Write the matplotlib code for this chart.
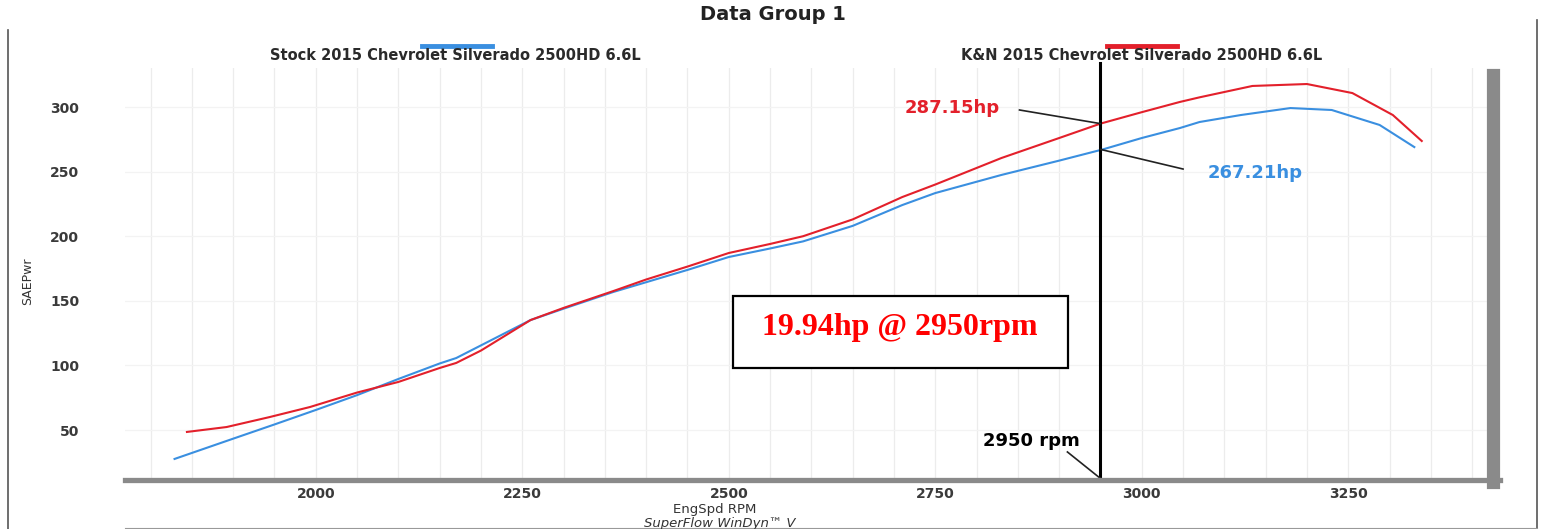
import matplotlib
matplotlib.use("Agg")
import matplotlib.pyplot as plt
from matplotlib.lines import Line2D
from matplotlib.patches import Rectangle

# ---- data ----
stock_rpm = [1829, 1900, 1950, 2000, 2050, 2100, 2150, 2170, 2200, 2260, 2300, 2360, 2400, 2450,
             2500, 2550, 2590, 2650, 2710, 2750, 2830, 2900, 2953, 3000, 3046, 3070, 3120, 3180,
             3230, 3288, 3330]
stock_hp = [27.6, 43.3, 54.3, 65.5, 77.0, 89.5, 101.5, 105.7, 115.5, 135.1, 143.9, 156.8, 164.4, 173.9,
            183.9, 190.5, 196.0, 208.0, 224.1, 233.4, 247.4, 258.5, 267.21, 276.0, 283.7, 288.4, 293.8, 299.2,
            297.7, 286.1, 269.0]

kn_rpm = [1844, 1892, 1944, 1993, 2050, 2100, 2150, 2170, 2200, 2260, 2300, 2360, 2400, 2450,
          2500, 2550, 2590, 2650, 2710, 2750, 2830, 2900, 2950, 3000, 3046, 3070, 3134, 3200,
          3255, 3304, 3339]
kn_hp = [48.5, 52.3, 60.0, 67.8, 79.0, 87.2, 98.0, 101.9, 111.5, 135.1, 144.5, 157.5, 166.5, 176.5,
         187.0, 194.0, 200.0, 213.0, 230.3, 240.0, 260.5, 276.0, 287.15, 296.0, 303.9, 307.5, 316.3, 317.8,
         310.8, 293.8, 273.7]

x_ticks = [2000, 2250, 2500, 2750, 3000, 3250]
y_ticks = [50, 100, 150, 200, 250, 300]
marker_rpm = 2950
stock_at_marker = 267.21
kn_at_marker = 287.15
gain_text = "19.94hp @ 2950rpm"
stock_label = "Stock 2015 Chevrolet Silverado 2500HD 6.6L"
kn_label = "K&N 2015 Chevrolet Silverado 2500HD 6.6L"

BLUE = "#3a8fe0"
RED = "#e3202b"

W, H = 1543, 529
fig = plt.figure(figsize=(W / 100, H / 100), dpi=100)


def fx(px):
    return px / W


def fy(py):
    return 1 - py / H


ax = fig.add_axes([fx(125), fy(480), fx(1487) - fx(125), fy(68) - fy(480)])
ax.set_xlim(1769, 3418)
ax.set_ylim(11.3, 330.2)

for s in ax.spines.values():
    s.set_visible(False)

# grid
for r in range(1800, 3401, 50):
    ax.axvline(r, color="#ececec", lw=0.9, zorder=0)
for h in y_ticks:
    ax.axhline(h, color="#f3f3f3", lw=0.9, zorder=0)

ax.plot(stock_rpm, stock_hp, color=BLUE, lw=1.5, zorder=3)
ax.plot(kn_rpm, kn_hp, color=RED, lw=1.5, zorder=3)

# marker line
ax.plot([marker_rpm, marker_rpm], [11.3, 334], color="black", lw=2.2, zorder=4, clip_on=False)

# leaders
ax.plot([2852, marker_rpm], [297.7, kn_at_marker], color="#222222", lw=1.2, zorder=4)
ax.plot([marker_rpm, 3050], [stock_at_marker, 252], color="#222222", lw=1.2, zorder=4)
ax.plot([2910, marker_rpm], [33, 12.5], color="#222222", lw=1.2, zorder=4)

ax.text(2770, 299.5, f"{kn_at_marker:.2f}hp", color=RED, fontsize=13, fontweight="bold",
        ha="center", va="center", zorder=5)
ax.text(3137, 249, f"{stock_at_marker:.2f}hp", color=BLUE, fontsize=13, fontweight="bold",
        ha="center", va="center", zorder=5)
ax.text(2866, 41.5, f"{marker_rpm} rpm", color="black", fontsize=13, fontweight="bold",
        ha="center", va="center", zorder=5)

ax.set_xticks(x_ticks)
ax.set_yticks(y_ticks)
ax.set_xticklabels([str(v) for v in x_ticks])
ax.set_yticklabels([str(v) for v in y_ticks])
ax.tick_params(axis="both", length=0, labelsize=10, labelcolor="#3a3a3a")
ax.tick_params(axis="y", pad=33)
ax.tick_params(axis="x", pad=5)
for lab in ax.get_xticklabels() + ax.get_yticklabels():
    lab.set_fontweight("bold")

# shadow frame bars
fig.add_artist(Line2D([fx(125), fx(1500)], [fy(480), fy(480)], color="#8a8a8a", lw=3.8))
fig.add_artist(Line2D([fx(1493), fx(1493)], [fy(75), fy(482)], color="#8a8a8a", lw=9.5))

# page border
fig.add_artist(Line2D([fx(8), fx(8)], [fy(30), fy(529)], color="#555555", lw=1.2))
fig.add_artist(Line2D([fx(1537), fx(1537)], [fy(20), fy(529)], color="#555555", lw=1.2))
fig.add_artist(Line2D([fx(125), fx(1537)], [fy(528), fy(528)], color="#999999", lw=0.8))

# title and legend
fig.text(fx(773), fy(14), "Data Group 1", fontsize=14, fontweight="bold", ha="center", va="center",
         color="#222222")
fig.text(fx(455), fy(55), stock_label, fontsize=10.5, fontweight="bold", ha="center", va="center",
         color="#2a2a2a")
fig.add_artist(Line2D([fx(422), fx(492)], [fy(46), fy(46)], color=BLUE, lw=3.5))
fig.text(fx(1142), fy(55), kn_label, fontsize=10.5, fontweight="bold", ha="center", va="center",
         color="#2a2a2a")
fig.add_artist(Line2D([fx(1107), fx(1177)], [fy(46), fy(46)], color=RED, lw=3.5))

# axis labels
fig.text(fx(28), fy(281), "SAEPwr", fontsize=9, rotation=90, ha="center", va="center", color="#333333")
fig.text(fx(715), fy(510), "EngSpd RPM", fontsize=9.5, ha="center", va="center", color="#333333")
fig.text(fx(720), fy(523), "SuperFlow WinDyn\u2122 V", fontsize=9.5, style="italic", ha="center",
         va="center", color="#333333")

# gain box
fig.add_artist(Rectangle((fx(733), fy(368)), fx(1068) - fx(733), fy(296) - fy(368),
                         transform=fig.transFigure, fill=True, facecolor="white",
                         edgecolor="black", lw=1.6, zorder=6))
fig.text(fx(900), fy(328), gain_text, fontsize=23, fontweight="bold", family="Liberation Serif",
         color="#ff0000", ha="center", va="center", zorder=7)

fig.savefig("out.png", dpi=100)
